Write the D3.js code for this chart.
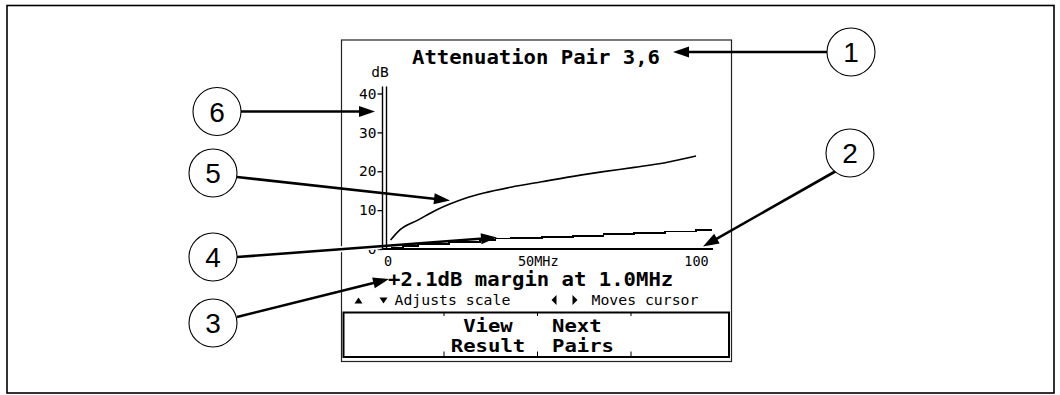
<!DOCTYPE html>
<html>
<head>
<meta charset="utf-8">
<script src="https://cdn.jsdelivr.net/npm/d3@7"></script>
<style>
  html, body { margin: 0; padding: 0; background: #fff; }
  svg { display: block; }
  .lcd { font-family: "DejaVu Sans Mono", monospace; fill: #000; }
  .callout { font-family: "Liberation Sans", Arial, sans-serif; fill: #000; }
</style>
</head>
<body>
<svg id="chart" width="1060" height="395"></svg>
<script>
// Attenuation limit curve (dB) against frequency (MHz)
const limitFreq = [1, 4, 10, 16, 20, 25, 31.25, 40, 50, 62.5, 70, 80, 90, 100];
const limitDb   = [2.3, 4.9, 7.5, 10.1, 11.5, 13.0, 14.4, 15.9, 17.3, 19.0, 19.9, 21.0, 22.2, 23.9];

// Measured attenuation of pair 3,6
const measFreq = [1, 5, 10, 20, 30, 35, 40, 50, 60, 70, 80, 90, 100, 105];
const measDb   = [0.2, 0.8, 1.2, 1.8, 2.4, 2.7, 2.8, 3.1, 3.4, 3.8, 4.1, 4.5, 4.8, 5.1];

// Axis ticks
const yTicks = [0, 10, 20, 30, 40];
const xTicks = [0, 50, 100];
const xTickLabels = ["0", "50MHz", "100"];

// Screen texts
const title = "Attenuation Pair 3,6";
const yUnit = "dB";
const readout = "+2.1dB margin at 1.0MHz";
const hintLeft = "Adjusts scale";
const hintRight = "Moves cursor";
const softKeys = [["View", "Result"], ["Next", "Pairs"]];
const calloutNumbers = [1, 2, 3, 4, 5, 6];

const svg = d3.select("#chart");

// Character pitch of the large screen font
const bigPitch = 12.4;

// Outer border of the figure
svg.append("rect")
  .attr("x", 7).attr("y", 5.5).attr("width", 1047).attr("height", 387.5)
  .attr("fill", "none").attr("stroke", "#000").attr("stroke-width", 1.6);

// Instrument screen frame
svg.append("rect")
  .attr("x", 341.5).attr("y", 40).attr("width", 390).attr("height", 321.5)
  .attr("fill", "none").attr("stroke", "#222").attr("stroke-width", 1.2);

// Scales
const x = d3.scaleLinear().domain([0, 100]).range([387.5, 696]);
const y = d3.scaleLinear().domain([0, 40]).range([249, 93.5]);

function bigText(str, px, py, anchor) {
  return svg.append("text").attr("class", "lcd")
    .attr("x", px).attr("y", py).attr("text-anchor", anchor || "start")
    .attr("font-size", 19).attr("font-weight", "bold")
    .attr("textLength", bigPitch * str.length).attr("lengthAdjust", "spacingAndGlyphs")
    .text(str);
}

// Title
bigText(title, 536, 63.5, "middle");

// Y unit
svg.append("text").attr("class", "lcd")
  .attr("x", 380).attr("y", 77).attr("text-anchor", "middle")
  .attr("font-size", 14.5)
  .text(yUnit);

// Y axis: ticks and labels
const yAxis = d3.axisLeft(y).tickValues(yTicks).tickSize(5).tickPadding(1)
  .tickFormat(d3.format("d"));
const gy = svg.append("g").attr("transform", "translate(382.5,0)").call(yAxis);
gy.select(".domain").remove();
gy.selectAll(".tick line").attr("stroke", "#000").attr("stroke-width", 1.3);
gy.selectAll(".tick text").attr("class", "lcd").attr("font-size", 14.5)
  .attr("fill", "#000");

// Double vertical axis line
[382.5, 386.5].forEach(px => {
  svg.append("line")
    .attr("x1", px).attr("x2", px).attr("y1", 86.5).attr("y2", y(0))
    .attr("stroke", "#000").attr("stroke-width", 1.4);
});

// X axis baseline and labels
svg.append("line")
  .attr("x1", 382).attr("x2", 713).attr("y1", y(0)).attr("y2", y(0))
  .attr("stroke", "#000").attr("stroke-width", 2.2);
const xAxis = d3.axisBottom(x).tickValues(xTicks).tickSize(0).tickPadding(0)
  .tickFormat((d, i) => xTickLabels[i]);
const gx = svg.append("g").attr("transform", `translate(0,${y(0)})`).call(xAxis);
gx.select(".domain").remove();
gx.selectAll(".tick text").attr("class", "lcd").attr("font-size", 13.5)
  .attr("fill", "#000").attr("dy", null).attr("y", 16.5);
gx.selectAll(".tick").filter(d => d === 50)
  .select("text").attr("dx", -4);

// Curves
const lineLimit = d3.line()
  .x((d, i) => x(limitFreq[i])).y(d => y(d))
  .curve(d3.curveMonotoneX);
svg.append("path").datum(limitDb)
  .attr("d", lineLimit)
  .attr("fill", "none").attr("stroke", "#000").attr("stroke-width", 1.6);

const lineMeas = d3.line()
  .x((d, i) => x(measFreq[i])).y(d => y(d))
  .curve(d3.curveStepAfter);
svg.append("path").datum(measDb)
  .attr("d", lineMeas)
  .attr("fill", "none").attr("stroke", "#000").attr("stroke-width", 1.8)
  .attr("shape-rendering", "crispEdges");

// Readout
bigText(readout, 388, 286);

// Key hints with small triangle glyphs
const tri = (cx, cy, dir, w, h) => {
  let pts;
  if (dir === "up")    pts = [[cx - w / 2, cy + h / 2], [cx + w / 2, cy + h / 2], [cx, cy - h / 2]];
  if (dir === "down")  pts = [[cx - w / 2, cy - h / 2], [cx + w / 2, cy - h / 2], [cx, cy + h / 2]];
  if (dir === "left")  pts = [[cx + w / 2, cy - h / 2], [cx + w / 2, cy + h / 2], [cx - w / 2, cy]];
  if (dir === "right") pts = [[cx - w / 2, cy - h / 2], [cx - w / 2, cy + h / 2], [cx + w / 2, cy]];
  svg.append("polygon").attr("points", pts.map(p => p.join(",")).join(" ")).attr("fill", "#000");
};
tri(358.5, 300.5, "up", 8, 6);
tri(383.5, 300.5, "down", 8, 6);
tri(554, 300, "left", 5, 10);
tri(575, 300, "right", 5, 10);
svg.append("text").attr("class", "lcd")
  .attr("x", 394.5).attr("y", 305).attr("font-size", 14.8).text(hintLeft);
svg.append("text").attr("class", "lcd")
  .attr("x", 591.5).attr("y", 305).attr("font-size", 14.8).text(hintRight);

// Soft-key bar
svg.append("rect")
  .attr("x", 343.5).attr("y", 312.5).attr("width", 385.5).attr("height", 44.5)
  .attr("fill", "none").attr("stroke", "#000").attr("stroke-width", 2);
[444, 537.5, 631].forEach(px => {
  svg.append("line").attr("x1", px).attr("x2", px).attr("y1", 312.5).attr("y2", 316)
    .attr("stroke", "#000").attr("stroke-width", 1);
  svg.append("line").attr("x1", px).attr("x2", px).attr("y1", 351.5).attr("y2", 357)
    .attr("stroke", "#000").attr("stroke-width", 1);
});
const keyPos = [{x: 488, anchor: "middle"}, {x: 552, anchor: "start"}];
softKeys.forEach((lines, k) => {
  lines.forEach((t, j) => {
    svg.append("text").attr("class", "lcd")
      .attr("x", keyPos[k].x).attr("y", 331.5 + j * 20.5)
      .attr("text-anchor", keyPos[k].anchor)
      .attr("font-size", 17.5).attr("font-weight", "bold")
      .attr("textLength", bigPitch * t.length).attr("lengthAdjust", "spacingAndGlyphs")
      .text(t);
  });
});

// Callouts: numbered circles with leader arrows
const calloutLayout = [
  {cx: 851, cy: 52,  from: [827, 52],  tip: [673, 52]},
  {cx: 850, cy: 153, from: [836, 171], tip: [703, 246.5]},
  {cx: 213, cy: 323, from: [237, 317], tip: [389, 279]},
  {cx: 213, cy: 257, from: [237, 257], tip: [497, 237.5], halo: true},
  {cx: 213, cy: 173, from: [237, 177], tip: [450, 200.5]},
  {cx: 217, cy: 111.5, from: [241, 111.5], tip: [375, 111.5]}
];

function arrow(from, tip, halo) {
  const dx = tip[0] - from[0], dy = tip[1] - from[1];
  const len = Math.hypot(dx, dy);
  const ux = dx / len, uy = dy / len;
  const headLen = 16, headW = 5.5;
  const bx = tip[0] - ux * headLen, by = tip[1] - uy * headLen;
  if (halo) {
    // white clearance under the leader where it passes the axis labels
    svg.append("line")
      .attr("x1", 340).attr("y1", from[1] + (340 - from[0]) * uy / ux)
      .attr("x2", 380).attr("y2", from[1] + (380 - from[0]) * uy / ux)
      .attr("stroke", "#fff").attr("stroke-width", 6);
  }
  svg.append("line")
    .attr("x1", from[0]).attr("y1", from[1]).attr("x2", bx + ux * 2).attr("y2", by + uy * 2)
    .attr("stroke", "#000").attr("stroke-width", 2.6);
  const pts = [tip, [bx - uy * headW, by + ux * headW], [bx + uy * headW, by - ux * headW]];
  svg.append("polygon").attr("points", pts.map(p => p.join(",")).join(" "))
    .attr("fill", "#000");
}

calloutNumbers.forEach((n, i) => {
  const c = calloutLayout[i];
  arrow(c.from, c.tip, c.halo);
  svg.append("circle").attr("cx", c.cx).attr("cy", c.cy).attr("r", 24)
    .attr("fill", "#fff").attr("stroke", "#000").attr("stroke-width", 1.1);
  svg.append("text").attr("class", "callout")
    .attr("x", c.cx).attr("y", c.cy + 10).attr("text-anchor", "middle")
    .attr("font-size", 28).text(n);
});
</script>
</body>
</html>
